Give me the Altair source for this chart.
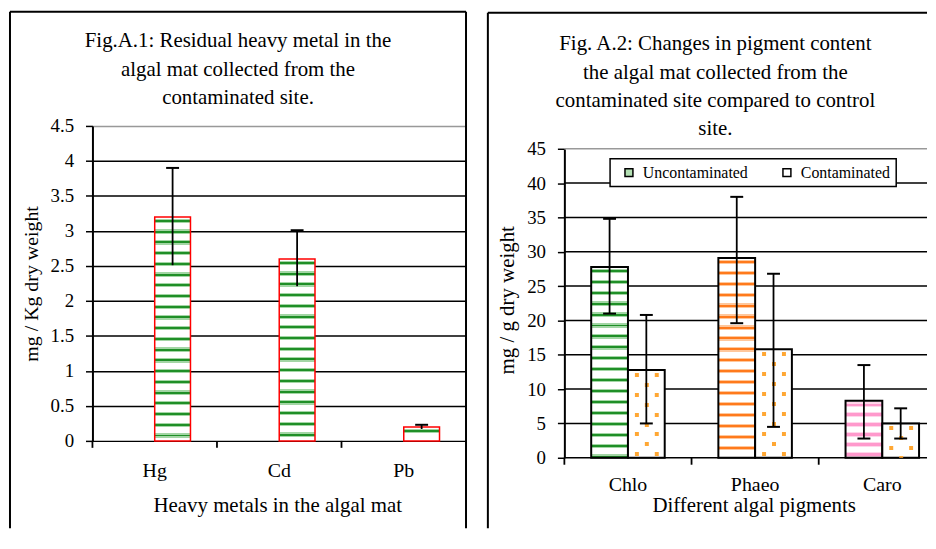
import altair as alt
import pandas as pd

FONT = "Liberation Serif"

# ---------------- data ----------------
metals = ["Hg", "Cd", "Pb"]
metal_mean = [3.2, 2.6, 0.2]
metal_lo = [2.51, 2.21, 0.17]
metal_hi = [3.9, 3.01, 0.23]
left_ticks = [0, 0.5, 1, 1.5, 2, 2.5, 3, 3.5, 4, 4.5]

pigments = ["Chlo", "Phaeo", "Caro"]
series = ["Uncontaminated", "Contaminated"]
unc_mean = [27.8, 29.1, 8.3]
unc_lo = [21.0, 19.6, 2.8]
unc_hi = [34.8, 38.0, 13.5]
con_mean = [12.8, 15.8, 5.0]
con_lo = [5.0, 4.5, 2.8]
con_hi = [20.8, 26.8, 7.2]
right_ticks = [0, 5, 10, 15, 20, 25, 30, 35, 40, 45]

left_title = ["Fig.A.1:  Residual heavy metal in the",
              "algal mat collected from the",
              "contaminated site."]
right_title = ["Fig. A.2: Changes in pigment content",
               "the algal mat collected from the",
               "contaminated site compared to control",
               "site."]
left_xtitle = "Heavy metals in the algal mat"
left_ytitle = "mg / Kg dry weight"
right_xtitle = "Different algal pigments"
right_ytitle = "mg / g dry weight"

# ---------------- styles ----------------
W1, H1, YMAX1 = 376, 317, 4.5
W2, H2, YMAX2 = 365, 334, 45
TOP2 = 23
XR2 = 384
FB = 405   # frame bottom (plot-relative)
GREEN = ("#1f8f27", "#a3d6a5")
ORANGE = ("#ff7a1c", "#ffc79c")
PINK = ("#ff99cc", "#ffd6ea")
DOT = "#ffa733"
PAD = {"left": 1, "top": 1, "right": 0, "bottom": 0}


def stripes(h, period, dark, light, first=4.0, dark_w=2.0, light_w=1.2, bg="#ffffff"):
    stops = [(0.0, bg)]
    c = first
    while c < h - 1:
        a = c - dark_w / 2 - light_w
        b = c - dark_w / 2
        d = c + dark_w / 2
        e = d + light_w
        for off, c1, c2 in [(a, bg, light), (b, light, dark), (d, dark, light), (e, light, bg)]:
            f = min(max(off / h, 0.0), 1.0)
            stops.append((f, c1))
            stops.append((f, c2))
        c += period
    stops.append((1.0, bg))
    return {"gradient": "linear", "x1": 0, "y1": 0, "x2": 0, "y2": 1,
            "stops": [{"offset": round(o, 5), "color": col} for o, col in stops]}


def dots(h, period, first, size, color):
    clear = "rgba(255,255,255,0)"
    stops = [(0.0, clear)]
    c = first
    while c < h - 1:
        a = c
        b = min(c + size, h)
        for off, c1, c2 in [(a, clear, color), (b, color, clear)]:
            f = min(max(off / h, 0.0), 1.0)
            stops.append((f, c1))
            stops.append((f, c2))
        c += period
    stops.append((1.0, clear))
    return {"gradient": "linear", "x1": 0, "y1": 0, "x2": 0, "y2": 1,
            "stops": [{"offset": round(o, 5), "color": col} for o, col in stops]}


one = pd.DataFrame({"k": [0]})

# ---------------- left panel ----------------
left_df = pd.DataFrame({"metal": metals, "value": metal_mean, "lo": metal_lo, "hi": metal_hi})

xscaleL = alt.Scale(domain=metals, paddingInner=0, paddingOuter=0)
xaxisL = alt.Axis(title=left_xtitle, ticks=False, tickSize=0, domain=False, grid=False,
                  labelAngle=0, labelPadding=30, labelBaseline="middle", labelFontSize=20,
                  titleX=186, titleY=65, titleBaseline="middle", titleFontSize=21)
yscaleL = alt.Scale(domain=[0, YMAX1], nice=False, zero=True)
yaxisL = alt.Axis(title=left_ytitle, values=left_ticks, format=".1~f", grid=True,
                  gridColor={"condition": {"test": "datum.value >= 4.5", "value": "#999999"}, "value": "black"},
                  gridWidth=1.5, domainWidth=2, tickSize=7, tickWidth=1.5, labelPadding=12,
                  titleX=-61, titleY=H1 / 2, titleBaseline="middle", titleAngle=270, titleFontSize=20)


def xL(band=None):
    if band is None:
        return alt.X("metal:N", scale=xscaleL, axis=xaxisL)
    return alt.X("metal:N", scale=xscaleL, axis=xaxisL, bandPosition=band)


def yL(field):
    return alt.Y(f"{field}:Q", scale=yscaleL, axis=yaxisL)


layersL = []
for m, v in zip(metals, metal_mean):
    h = v / YMAX1 * H1
    layersL.append(
        alt.Chart(left_df).transform_filter(alt.datum.metal == m)
        .mark_bar(width=36, xOffset=18, fill=stripes(h, 10.8, *GREEN), stroke="#ff0000", strokeWidth=1.5)
        .encode(x=xL(), y=yL("value"))
    )
layersL.append(alt.Chart(left_df).mark_rule(xOffset=18, color="black", strokeWidth=1.8)
               .encode(x=xL(), y=yL("lo"), y2="hi:Q"))
layersL.append(alt.Chart(left_df).mark_tick(xOffset=18, size=13, thickness=2, color="black", opacity=1)
               .encode(x=xL(), y=yL("hi")))
layersL.append(alt.Chart(left_df).mark_rule(color="black", strokeWidth=1.8)
               .encode(x=xL(0), y=alt.value(H1), y2=alt.value(H1 + 7)))
# frame
layersL.append(alt.Chart(one).mark_rule(color="black", strokeWidth=2)
               .encode(x=alt.value(-83), x2=alt.value(376), y=alt.value(-115)))
layersL.append(alt.Chart(one).mark_rule(color="black", strokeWidth=2)
               .encode(x=alt.value(-83), y=alt.value(-115), y2=alt.value(FB)))
layersL.append(alt.Chart(one).mark_rule(color="black", strokeWidth=2)
               .encode(x=alt.value(376), y=alt.value(-115), y2=alt.value(FB)))
layersL.append(alt.Chart(one).mark_text(text=left_title, font=FONT, fontSize=21, lineHeight=28.5,
                                        align="center", baseline="middle", color="black")
               .encode(x=alt.value(146.5), y=alt.value(-85)))

left = alt.layer(*layersL).properties(width=W1, height=H1)

# ---------------- right panel ----------------
right_df = pd.DataFrame({"pigment": pigments,
                         "unc": unc_mean, "unc_lo": unc_lo, "unc_hi": unc_hi,
                         "con": con_mean, "con_lo": con_lo, "con_hi": con_hi})
grid_df = pd.DataFrame({"tick": right_ticks})

xscaleR = alt.Scale(domain=pigments, range=[0, XR2], paddingInner=0, paddingOuter=0)
yscaleR = alt.Scale(domain=[0, YMAX2], nice=False, zero=True, range=[H2, TOP2])
yaxisR = alt.Axis(title=right_ytitle, values=right_ticks, grid=False,
                  domainWidth=2, tickSize=7, tickWidth=1.5, labelPadding=12,
                  titleX=-57, titleY=175, titleBaseline="middle", titleAngle=270, titleFontSize=21)


def xR(band=None):
    if band is None:
        return alt.X("pigment:N", scale=xscaleR, axis=None)
    return alt.X("pigment:N", scale=xscaleR, axis=None, bandPosition=band)


def yR(field):
    return alt.Y(f"{field}:Q", scale=yscaleR, axis=yaxisR)


PX2 = (H2 - TOP2) / YMAX2
layersR = []
# horizontal gridlines (drawn first, behind the bars)
layersR.append(
    alt.Chart(grid_df).mark_rule(strokeWidth=1.5)
    .encode(y=yR("tick"), x=alt.value(0), x2=alt.value(W2),
            color=alt.condition(alt.datum.tick >= 45, alt.value("#999999"), alt.value("black")))
)
unc_colors = [GREEN, ORANGE, PINK]
for p, v, col in zip(pigments, unc_mean, unc_colors):
    h = v * PX2
    layersR.append(
        alt.Chart(right_df).transform_filter(alt.datum.pigment == p)
        .mark_bar(width=37, xOffset=-18.5, fill=stripes(h, 11.0 if col != PINK else 10.0, *col,
                                                          dark_w=2.0 if col != PINK else 2.5),
                  stroke="black", strokeWidth=2)
        .encode(x=xR(), y=yR("unc"))
    )
layersR.append(alt.Chart(right_df).mark_bar(width=37, xOffset=18.5, fill="white", stroke="black", strokeWidth=2)
               .encode(x=xR(), y=yR("con")))
for p, v in zip(pigments, con_mean):
    h = v * PX2
    for off, first in [(9, 3), (19, 13), (29, 3)]:
        layersR.append(
            alt.Chart(right_df).transform_filter(alt.datum.pigment == p)
            .mark_bar(width=4, xOffset=off, fill=dots(h, 20, first, 4, DOT), strokeWidth=0)
            .encode(x=xR(), y=yR("con"))
        )
for f, off in [("unc", -18.5), ("con", 18.5)]:
    layersR.append(alt.Chart(right_df).mark_rule(xOffset=off, color="black", strokeWidth=1.8)
                   .encode(x=xR(), y=yR(f + "_lo"), y2=f"{f}_hi:Q"))
    for end in ["_lo", "_hi"]:
        layersR.append(alt.Chart(right_df).mark_tick(xOffset=off, size=13, thickness=2, color="black", opacity=1)
                       .encode(x=xR(), y=yR(f + end)))
layersR.append(alt.Chart(right_df).mark_rule(color="black", strokeWidth=1.8)
               .encode(x=xR(0), y=alt.value(H2), y2=alt.value(H2 + 7)))
# category labels and axis title
layersR.append(alt.Chart(right_df).mark_text(font=FONT, fontSize=20, baseline="middle", color="black")
               .encode(x=xR(), y=alt.value(H2 + 27), text="pigment:N"))
layersR.append(alt.Chart(one).mark_text(text=right_xtitle, font=FONT, fontSize=21, baseline="middle",
                                        color="black")
               .encode(x=alt.value(191), y=alt.value(H2 + 49)))
# legend
layersR.append(
    alt.Chart(pd.DataFrame({"series": series})).mark_square(size=0, strokeWidth=0)
    .encode(x=alt.value(0), y=alt.value(0),
            fill=alt.Fill("series:N", scale=alt.Scale(domain=series, range=["#b3e0b3", "#ffffff"]),
                          legend=alt.Legend(orient="none", legendX=46, legendY=33, direction="horizontal",
                                            title=None, strokeColor="black", fillColor="white", padding=6,
                                            symbolType="square", symbolSize=64, symbolStrokeColor="black",
                                            symbolStrokeWidth=1.5, symbolOpacity=1, symbolOffset=5,
                                            labelFont=FONT, labelFontSize=16, labelColor="black",
                                            labelOffset=6, columnPadding=26)))
)
# frame
layersR.append(alt.Chart(one).mark_rule(color="black", strokeWidth=2)
               .encode(x=alt.value(-77), x2=alt.value(W2), y=alt.value(-114)))
layersR.append(alt.Chart(one).mark_rule(color="black", strokeWidth=2)
               .encode(x=alt.value(-77), y=alt.value(-114), y2=alt.value(FB)))
layersR.append(alt.Chart(one).mark_text(text=right_title, font=FONT, fontSize=21, lineHeight=28.3,
                                        align="center", baseline="middle", color="black")
               .encode(x=alt.value(152), y=alt.value(-82)))

right = alt.layer(*layersR).properties(width=W2, height=H2)

chart = (
    alt.hconcat(left, right, spacing=20)
    .resolve_legend(fill="independent")
    .properties(padding=PAD, background="white")
    .configure(padding=PAD)
    .configure_view(strokeWidth=0)
    .configure_axis(labelFont=FONT, labelFontSize=19, labelColor="black", titleFont=FONT,
                    titleColor="black", titleFontWeight="normal", domainColor="black",
                    tickColor="black")
    .configure_legend(strokeWidth=1.5)
)

chart.save("out.html", embed_options={"renderer": "svg", "actions": False, "padding": PAD})
